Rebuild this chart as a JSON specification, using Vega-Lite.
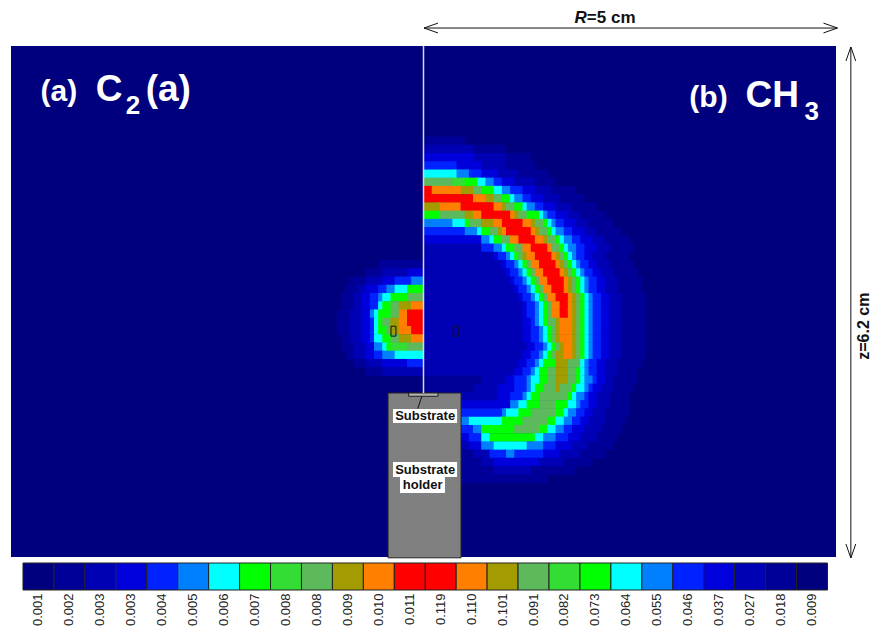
{"$schema":"https://vega.github.io/schema/vega-lite/v6.json","width":872,"height":630,"padding":0,"autosize":{"type":"none"},"background":"white","config":{"view":{"stroke":null},"text":{"font":"Liberation Sans"}},
"datasets":{"cells":[
{"z":5.05,"b":0.5,"v":2},
{"z":4.95,"b":1.0,"v":2},{"z":4.95,"b":0.6,"v":3},
{"z":4.85,"b":1.3,"v":2},{"z":4.85,"b":1.0,"v":3},{"z":4.85,"b":0.6,"v":4},
{"z":4.75,"b":1.35,"v":2},{"z":4.75,"b":1.0,"v":3},{"z":4.75,"b":0.7,"v":4},{"z":4.75,"b":0.4,"v":5},
{"z":4.65,"b":1.5,"v":2},{"z":4.65,"b":1.15,"v":3},{"z":4.65,"b":0.9,"v":4},{"z":4.65,"b":0.7,"v":5},{"z":4.65,"b":0.55,"v":6},{"z":4.65,"b":0.4,"v":7},
{"z":4.55,"b":1.6,"v":2},{"z":4.55,"b":1.35,"v":3},{"z":4.55,"b":1.1,"v":4},{"z":4.55,"b":0.95,"v":5},{"z":4.55,"b":0.85,"v":6},{"z":4.55,"b":0.75,"v":7},{"z":4.55,"b":0.65,"v":8},{"z":4.55,"b":0.5,"v":9},{"z":4.55,"b":0.35,"v":10},
{"z":4.45,"b":1.85,"v":2},{"z":4.45,"b":1.55,"v":3},{"z":4.45,"b":1.35,"v":4},{"z":4.45,"b":1.2,"v":5},{"z":4.45,"b":1.05,"v":6},{"z":4.45,"b":0.95,"v":7},{"z":4.45,"b":0.85,"v":8},{"z":4.45,"b":0.7,"v":10},{"z":4.45,"b":0.6,"v":11},{"z":4.45,"b":0.45,"v":12},{"z":4.45,"b":0.1,"v":13},
{"z":4.35,"b":1.95,"v":2},{"z":4.35,"b":1.65,"v":3},{"z":4.35,"b":1.45,"v":4},{"z":4.35,"b":1.3,"v":5},{"z":4.35,"b":1.2,"v":6},{"z":4.35,"b":1.1,"v":7},{"z":4.35,"b":1.05,"v":8},{"z":4.35,"b":0.95,"v":10},{"z":4.35,"b":0.85,"v":11},{"z":4.35,"b":0.75,"v":12},{"z":4.35,"b":0.6,"v":13},
{"z":4.25,"b":2.1,"v":2},{"z":4.25,"b":1.8,"v":3},{"z":4.25,"b":1.6,"v":4},{"z":4.25,"b":1.45,"v":5},{"z":4.25,"b":1.35,"v":6},{"z":4.25,"b":1.25,"v":7},{"z":4.25,"b":1.2,"v":8},{"z":4.25,"b":1.1,"v":10},{"z":4.25,"b":1.0,"v":11},{"z":4.25,"b":0.95,"v":12},{"z":4.25,"b":0.85,"v":13},{"z":4.25,"b":0.45,"v":12},{"z":4.25,"b":0.2,"v":11},
{"z":4.15,"b":2.2,"v":2},{"z":4.15,"b":1.9,"v":3},{"z":4.15,"b":1.75,"v":4},{"z":4.15,"b":1.6,"v":5},{"z":4.15,"b":1.5,"v":6},{"z":4.15,"b":1.45,"v":7},{"z":4.15,"b":1.4,"v":8},{"z":4.15,"b":1.25,"v":10},{"z":4.15,"b":1.15,"v":11},{"z":4.15,"b":1.1,"v":12},{"z":4.15,"b":1.05,"v":13},{"z":4.15,"b":0.7,"v":12},{"z":4.15,"b":0.6,"v":11},{"z":4.15,"b":0.5,"v":10},{"z":4.15,"b":0.2,"v":8},
{"z":4.05,"b":2.3,"v":2},{"z":4.05,"b":2.0,"v":3},{"z":4.05,"b":1.85,"v":4},{"z":4.05,"b":1.7,"v":5},{"z":4.05,"b":1.6,"v":6},{"z":4.05,"b":1.55,"v":7},{"z":4.05,"b":1.5,"v":8},{"z":4.05,"b":1.45,"v":10},{"z":4.05,"b":1.35,"v":11},{"z":4.05,"b":1.3,"v":12},{"z":4.05,"b":1.2,"v":13},{"z":4.05,"b":0.95,"v":12},{"z":4.05,"b":0.85,"v":11},{"z":4.05,"b":0.7,"v":10},{"z":4.05,"b":0.55,"v":8},{"z":4.05,"b":0.5,"v":7},{"z":4.05,"b":0.35,"v":6},
{"z":3.95,"b":2.4,"v":2},{"z":3.95,"b":2.1,"v":3},{"z":3.95,"b":1.95,"v":4},{"z":3.95,"b":1.8,"v":5},{"z":3.95,"b":1.7,"v":6},{"z":3.95,"b":1.6,"v":7},{"z":3.95,"b":1.55,"v":8},{"z":3.95,"b":1.5,"v":10},{"z":3.95,"b":1.4,"v":11},{"z":3.95,"b":1.35,"v":12},{"z":3.95,"b":1.3,"v":13},{"z":3.95,"b":1.0,"v":12},{"z":3.95,"b":0.95,"v":11},{"z":3.95,"b":0.9,"v":10},{"z":3.95,"b":0.8,"v":8},{"z":3.95,"b":0.7,"v":7},{"z":3.95,"b":0.65,"v":6},{"z":3.95,"b":0.5,"v":5},
{"z":3.85,"b":2.5,"v":2},{"z":3.85,"b":2.2,"v":3},{"z":3.85,"b":2.05,"v":4},{"z":3.85,"b":1.9,"v":5},{"z":3.85,"b":1.8,"v":6},{"z":3.85,"b":1.7,"v":7},{"z":3.85,"b":1.65,"v":8},{"z":3.85,"b":1.6,"v":10},{"z":3.85,"b":1.5,"v":11},{"z":3.85,"b":1.45,"v":12},{"z":3.85,"b":1.35,"v":13},{"z":3.85,"b":1.15,"v":12},{"z":3.85,"b":1.05,"v":10},{"z":3.85,"b":0.95,"v":8},{"z":3.85,"b":0.85,"v":7},{"z":3.85,"b":0.8,"v":6},{"z":3.85,"b":0.7,"v":4},
{"z":3.75,"b":2.55,"v":2},{"z":3.75,"b":2.25,"v":3},{"z":3.75,"b":2.1,"v":4},{"z":3.75,"b":1.95,"v":5},{"z":3.75,"b":1.85,"v":6},{"z":3.75,"b":1.75,"v":7},{"z":3.75,"b":1.7,"v":8},{"z":3.75,"b":1.65,"v":10},{"z":3.75,"b":1.55,"v":12},{"z":3.75,"b":1.5,"v":13},{"z":3.75,"b":1.3,"v":12},{"z":3.75,"b":1.2,"v":10},{"z":3.75,"b":1.1,"v":8},{"z":3.75,"b":1.0,"v":7},{"z":3.75,"b":0.95,"v":6},{"z":3.75,"b":0.85,"v":5},{"z":3.75,"b":0.7,"v":3},
{"z":3.65,"b":2.5,"v":2},{"z":3.65,"b":2.2,"v":3},{"z":3.65,"b":2.05,"v":4},{"z":3.65,"b":1.95,"v":5},{"z":3.65,"b":1.85,"v":6},{"z":3.65,"b":1.8,"v":7},{"z":3.65,"b":1.75,"v":8},{"z":3.65,"b":1.7,"v":10},{"z":3.65,"b":1.65,"v":11},{"z":3.65,"b":1.6,"v":12},{"z":3.65,"b":1.55,"v":13},{"z":3.65,"b":1.35,"v":12},{"z":3.65,"b":1.25,"v":11},{"z":3.65,"b":1.2,"v":10},{"z":3.65,"b":1.15,"v":8},{"z":3.65,"b":1.1,"v":7},{"z":3.65,"b":1.05,"v":6},{"z":3.65,"b":1.0,"v":5},{"z":3.65,"b":0.9,"v":4},{"z":3.65,"b":0.85,"v":3},
{"z":3.55,"b":2.55,"v":2},{"z":3.55,"b":2.25,"v":3},{"z":3.55,"b":2.1,"v":4},{"z":3.55,"b":2.0,"v":5},{"z":3.55,"b":1.9,"v":6},{"z":3.55,"b":1.85,"v":7},{"z":3.55,"b":1.8,"v":8},{"z":3.55,"b":1.75,"v":10},{"z":3.55,"b":1.7,"v":11},{"z":3.55,"b":1.65,"v":12},{"z":3.55,"b":1.6,"v":13},{"z":3.55,"b":1.4,"v":12},{"z":3.55,"b":1.3,"v":10},{"z":3.55,"b":1.25,"v":8},{"z":3.55,"b":1.2,"v":7},{"z":3.55,"b":1.15,"v":6},{"z":3.55,"b":1.1,"v":5},{"z":3.55,"b":1.0,"v":4},{"z":3.55,"b":0.95,"v":3},
{"z":3.45,"b":2.6,"v":2},{"z":3.45,"b":2.3,"v":3},{"z":3.45,"b":2.15,"v":4},{"z":3.45,"b":2.05,"v":5},{"z":3.45,"b":1.95,"v":6},{"z":3.45,"b":1.9,"v":7},{"z":3.45,"b":1.85,"v":8},{"z":3.45,"b":1.8,"v":10},{"z":3.45,"b":1.75,"v":11},{"z":3.45,"b":1.7,"v":12},{"z":3.45,"b":1.65,"v":13},{"z":3.45,"b":1.45,"v":12},{"z":3.45,"b":1.35,"v":10},{"z":3.45,"b":1.3,"v":8},{"z":3.45,"b":1.25,"v":7},{"z":3.45,"b":1.2,"v":6},{"z":3.45,"b":1.15,"v":5},{"z":3.45,"b":1.05,"v":4},{"z":3.45,"b":1.0,"v":3},
{"z":3.35,"b":2.65,"v":2},{"z":3.35,"b":2.35,"v":3},{"z":3.35,"b":2.2,"v":4},{"z":3.35,"b":2.1,"v":5},{"z":3.35,"b":2.0,"v":6},{"z":3.35,"b":1.95,"v":7},{"z":3.35,"b":1.9,"v":8},{"z":3.35,"b":1.85,"v":10},{"z":3.35,"b":1.8,"v":11},{"z":3.35,"b":1.75,"v":12},{"z":3.35,"b":1.7,"v":13},{"z":3.35,"b":1.5,"v":12},{"z":3.35,"b":1.4,"v":10},{"z":3.35,"b":1.35,"v":8},{"z":3.35,"b":1.3,"v":7},{"z":3.35,"b":1.25,"v":6},{"z":3.35,"b":1.2,"v":5},{"z":3.35,"b":1.1,"v":4},{"z":3.35,"b":1.05,"v":3},
{"z":3.25,"b":2.65,"v":2},{"z":3.25,"b":2.35,"v":3},{"z":3.25,"b":2.2,"v":4},{"z":3.25,"b":2.1,"v":5},{"z":3.25,"b":2.0,"v":6},{"z":3.25,"b":1.95,"v":7},{"z":3.25,"b":1.9,"v":8},{"z":3.25,"b":1.85,"v":10},{"z":3.25,"b":1.8,"v":11},{"z":3.25,"b":1.75,"v":12},{"z":3.25,"b":1.7,"v":13},{"z":3.25,"b":1.55,"v":12},{"z":3.25,"b":1.45,"v":10},{"z":3.25,"b":1.4,"v":8},{"z":3.25,"b":1.35,"v":7},{"z":3.25,"b":1.3,"v":6},{"z":3.25,"b":1.25,"v":5},{"z":3.25,"b":1.15,"v":4},{"z":3.25,"b":1.1,"v":3},
{"z":3.15,"b":2.7,"v":2},{"z":3.15,"b":2.4,"v":3},{"z":3.15,"b":2.25,"v":4},{"z":3.15,"b":2.15,"v":5},{"z":3.15,"b":2.05,"v":6},{"z":3.15,"b":2.0,"v":7},{"z":3.15,"b":1.95,"v":8},{"z":3.15,"b":1.9,"v":10},{"z":3.15,"b":1.85,"v":11},{"z":3.15,"b":1.8,"v":12},{"z":3.15,"b":1.75,"v":13},{"z":3.15,"b":1.6,"v":12},{"z":3.15,"b":1.5,"v":10},{"z":3.15,"b":1.45,"v":8},{"z":3.15,"b":1.4,"v":7},{"z":3.15,"b":1.35,"v":6},{"z":3.15,"b":1.3,"v":5},{"z":3.15,"b":1.2,"v":4},{"z":3.15,"b":1.15,"v":3},
{"z":3.05,"b":2.7,"v":2},{"z":3.05,"b":2.4,"v":3},{"z":3.05,"b":2.25,"v":4},{"z":3.05,"b":2.15,"v":5},{"z":3.05,"b":2.05,"v":6},{"z":3.05,"b":2.0,"v":7},{"z":3.05,"b":1.95,"v":8},{"z":3.05,"b":1.9,"v":10},{"z":3.05,"b":1.85,"v":11},{"z":3.05,"b":1.8,"v":12},{"z":3.05,"b":1.75,"v":13},{"z":3.05,"b":1.65,"v":12},{"z":3.05,"b":1.55,"v":10},{"z":3.05,"b":1.5,"v":8},{"z":3.05,"b":1.45,"v":7},{"z":3.05,"b":1.4,"v":6},{"z":3.05,"b":1.35,"v":5},{"z":3.05,"b":1.25,"v":4},{"z":3.05,"b":1.2,"v":3},
{"z":2.95,"b":2.7,"v":2},{"z":2.95,"b":2.4,"v":3},{"z":2.95,"b":2.25,"v":4},{"z":2.95,"b":2.15,"v":5},{"z":2.95,"b":2.05,"v":6},{"z":2.95,"b":2.0,"v":7},{"z":2.95,"b":1.95,"v":8},{"z":2.95,"b":1.9,"v":10},{"z":2.95,"b":1.85,"v":11},{"z":2.95,"b":1.8,"v":12},{"z":2.95,"b":1.75,"v":13},{"z":2.95,"b":1.65,"v":12},{"z":2.95,"b":1.55,"v":10},{"z":2.95,"b":1.5,"v":8},{"z":2.95,"b":1.45,"v":7},{"z":2.95,"b":1.4,"v":6},{"z":2.95,"b":1.35,"v":5},{"z":2.95,"b":1.25,"v":4},{"z":2.95,"b":1.2,"v":3},
{"z":2.85,"b":2.7,"v":2},{"z":2.85,"b":2.4,"v":3},{"z":2.85,"b":2.25,"v":4},{"z":2.85,"b":2.15,"v":5},{"z":2.85,"b":2.05,"v":6},{"z":2.85,"b":2.0,"v":7},{"z":2.85,"b":1.95,"v":8},{"z":2.85,"b":1.9,"v":10},{"z":2.85,"b":1.85,"v":11},{"z":2.85,"b":1.8,"v":12},{"z":2.85,"b":1.65,"v":11},{"z":2.85,"b":1.6,"v":10},{"z":2.85,"b":1.5,"v":8},{"z":2.85,"b":1.45,"v":7},{"z":2.85,"b":1.4,"v":6},{"z":2.85,"b":1.35,"v":5},{"z":2.85,"b":1.3,"v":4},{"z":2.85,"b":1.2,"v":3},
{"z":2.75,"b":2.7,"v":2},{"z":2.75,"b":2.4,"v":3},{"z":2.75,"b":2.25,"v":4},{"z":2.75,"b":2.15,"v":5},{"z":2.75,"b":2.05,"v":6},{"z":2.75,"b":2.0,"v":7},{"z":2.75,"b":1.95,"v":8},{"z":2.75,"b":1.9,"v":10},{"z":2.75,"b":1.85,"v":11},{"z":2.75,"b":1.8,"v":12},{"z":2.75,"b":1.65,"v":11},{"z":2.75,"b":1.6,"v":10},{"z":2.75,"b":1.55,"v":8},{"z":2.75,"b":1.5,"v":7},{"z":2.75,"b":1.45,"v":6},{"z":2.75,"b":1.4,"v":5},{"z":2.75,"b":1.3,"v":4},{"z":2.75,"b":1.2,"v":3},
{"z":2.65,"b":2.7,"v":2},{"z":2.65,"b":2.4,"v":3},{"z":2.65,"b":2.25,"v":4},{"z":2.65,"b":2.15,"v":5},{"z":2.65,"b":2.05,"v":6},{"z":2.65,"b":2.0,"v":7},{"z":2.65,"b":1.95,"v":8},{"z":2.65,"b":1.9,"v":10},{"z":2.65,"b":1.85,"v":11},{"z":2.65,"b":1.8,"v":12},{"z":2.65,"b":1.65,"v":11},{"z":2.65,"b":1.6,"v":10},{"z":2.65,"b":1.55,"v":8},{"z":2.65,"b":1.5,"v":7},{"z":2.65,"b":1.45,"v":6},{"z":2.65,"b":1.4,"v":5},{"z":2.65,"b":1.3,"v":4},{"z":2.65,"b":1.2,"v":3},
{"z":2.55,"b":2.7,"v":2},{"z":2.55,"b":2.4,"v":3},{"z":2.55,"b":2.25,"v":4},{"z":2.55,"b":2.15,"v":5},{"z":2.55,"b":2.05,"v":6},{"z":2.55,"b":2.0,"v":7},{"z":2.55,"b":1.95,"v":8},{"z":2.55,"b":1.9,"v":10},{"z":2.55,"b":1.85,"v":11},{"z":2.55,"b":1.8,"v":12},{"z":2.55,"b":1.7,"v":11},{"z":2.55,"b":1.65,"v":10},{"z":2.55,"b":1.6,"v":8},{"z":2.55,"b":1.55,"v":7},{"z":2.55,"b":1.5,"v":6},{"z":2.55,"b":1.45,"v":5},{"z":2.55,"b":1.35,"v":4},{"z":2.55,"b":1.25,"v":3},
{"z":2.45,"b":2.7,"v":2},{"z":2.45,"b":2.4,"v":3},{"z":2.45,"b":2.25,"v":4},{"z":2.45,"b":2.15,"v":5},{"z":2.45,"b":2.05,"v":6},{"z":2.45,"b":2.0,"v":7},{"z":2.45,"b":1.95,"v":8},{"z":2.45,"b":1.9,"v":10},{"z":2.45,"b":1.85,"v":11},{"z":2.45,"b":1.8,"v":12},{"z":2.45,"b":1.7,"v":11},{"z":2.45,"b":1.6,"v":10},{"z":2.45,"b":1.55,"v":8},{"z":2.45,"b":1.5,"v":7},{"z":2.45,"b":1.45,"v":6},{"z":2.45,"b":1.4,"v":5},{"z":2.45,"b":1.3,"v":4},{"z":2.45,"b":1.2,"v":3},
{"z":2.35,"b":2.65,"v":2},{"z":2.35,"b":2.35,"v":3},{"z":2.35,"b":2.2,"v":4},{"z":2.35,"b":2.1,"v":5},{"z":2.35,"b":2.0,"v":6},{"z":2.35,"b":1.95,"v":7},{"z":2.35,"b":1.9,"v":10},{"z":2.35,"b":1.75,"v":11},{"z":2.35,"b":1.6,"v":8},{"z":2.35,"b":1.45,"v":7},{"z":2.35,"b":1.4,"v":6},{"z":2.35,"b":1.35,"v":5},{"z":2.35,"b":1.25,"v":4},{"z":2.35,"b":1.15,"v":3},
{"z":2.25,"b":2.6,"v":2},{"z":2.25,"b":2.35,"v":3},{"z":2.25,"b":2.2,"v":4},{"z":2.25,"b":2.1,"v":5},{"z":2.25,"b":2.0,"v":6},{"z":2.25,"b":1.95,"v":7},{"z":2.25,"b":1.9,"v":8},{"z":2.25,"b":1.85,"v":10},{"z":2.25,"b":1.75,"v":11},{"z":2.25,"b":1.6,"v":10},{"z":2.25,"b":1.5,"v":8},{"z":2.25,"b":1.4,"v":7},{"z":2.25,"b":1.35,"v":6},{"z":2.25,"b":1.3,"v":5},{"z":2.25,"b":1.2,"v":4},{"z":2.25,"b":1.1,"v":3},
{"z":2.15,"b":2.6,"v":2},{"z":2.15,"b":2.3,"v":3},{"z":2.15,"b":2.2,"v":4},{"z":2.15,"b":2.1,"v":5},{"z":2.15,"b":2.05,"v":6},{"z":2.15,"b":1.95,"v":7},{"z":2.15,"b":1.9,"v":8},{"z":2.15,"b":1.85,"v":10},{"z":2.15,"b":1.75,"v":11},{"z":2.15,"b":1.6,"v":10},{"z":2.15,"b":1.5,"v":8},{"z":2.15,"b":1.4,"v":7},{"z":2.15,"b":1.3,"v":6},{"z":2.15,"b":1.25,"v":5},{"z":2.15,"b":1.1,"v":4},{"z":2.15,"b":1.0,"v":3},{"z":2.15,"b":0.7,"v":2},
{"z":2.05,"b":2.55,"v":2},{"z":2.05,"b":2.3,"v":3},{"z":2.05,"b":2.15,"v":4},{"z":2.05,"b":2.05,"v":5},{"z":2.05,"b":2.0,"v":6},{"z":2.05,"b":1.95,"v":7},{"z":2.05,"b":1.85,"v":8},{"z":2.05,"b":1.8,"v":10},{"z":2.05,"b":1.65,"v":11},{"z":2.05,"b":1.6,"v":10},{"z":2.05,"b":1.45,"v":8},{"z":2.05,"b":1.35,"v":7},{"z":2.05,"b":1.3,"v":6},{"z":2.05,"b":1.25,"v":5},{"z":2.05,"b":1.1,"v":4},{"z":2.05,"b":0.9,"v":3},{"z":2.05,"b":0.6,"v":2},
{"z":1.95,"b":2.5,"v":2},{"z":1.95,"b":2.25,"v":3},{"z":1.95,"b":2.1,"v":4},{"z":1.95,"b":2.0,"v":5},{"z":1.95,"b":1.95,"v":6},{"z":1.95,"b":1.85,"v":7},{"z":1.95,"b":1.8,"v":8},{"z":1.95,"b":1.75,"v":10},{"z":1.95,"b":1.4,"v":8},{"z":1.95,"b":1.3,"v":7},{"z":1.95,"b":1.25,"v":6},{"z":1.95,"b":1.2,"v":5},{"z":1.95,"b":1.05,"v":4},{"z":1.95,"b":0.9,"v":3},
{"z":1.85,"b":2.5,"v":2},{"z":1.85,"b":2.25,"v":3},{"z":1.85,"b":2.1,"v":4},{"z":1.85,"b":2.0,"v":5},{"z":1.85,"b":1.9,"v":6},{"z":1.85,"b":1.85,"v":7},{"z":1.85,"b":1.75,"v":8},{"z":1.85,"b":1.6,"v":10},{"z":1.85,"b":1.4,"v":8},{"z":1.85,"b":1.25,"v":7},{"z":1.85,"b":1.15,"v":6},{"z":1.85,"b":1.05,"v":4},
{"z":1.75,"b":2.5,"v":2},{"z":1.75,"b":2.2,"v":3},{"z":1.75,"b":2.05,"v":4},{"z":1.75,"b":1.95,"v":5},{"z":1.75,"b":1.85,"v":6},{"z":1.75,"b":1.75,"v":7},{"z":1.75,"b":1.7,"v":8},{"z":1.75,"b":1.6,"v":10},{"z":1.75,"b":1.3,"v":8},{"z":1.75,"b":1.15,"v":7},{"z":1.75,"b":1.0,"v":6},{"z":1.75,"b":0.95,"v":5},
{"z":1.65,"b":2.45,"v":2},{"z":1.65,"b":2.2,"v":3},{"z":1.65,"b":2.0,"v":4},{"z":1.65,"b":1.9,"v":5},{"z":1.65,"b":1.8,"v":6},{"z":1.65,"b":1.7,"v":7},{"z":1.65,"b":1.6,"v":8},{"z":1.65,"b":1.5,"v":10},{"z":1.65,"b":1.2,"v":8},{"z":1.65,"b":0.95,"v":7},{"z":1.65,"b":0.55,"v":6},
{"z":1.55,"b":2.4,"v":2},{"z":1.55,"b":2.15,"v":3},{"z":1.55,"b":1.95,"v":4},{"z":1.55,"b":1.8,"v":5},{"z":1.55,"b":1.7,"v":6},{"z":1.55,"b":1.6,"v":7},{"z":1.55,"b":1.5,"v":8},{"z":1.55,"b":1.4,"v":10},{"z":1.55,"b":1.1,"v":8},{"z":1.55,"b":0.7,"v":6},{"z":1.55,"b":0.6,"v":5},
{"z":1.45,"b":2.35,"v":2},{"z":1.45,"b":2.1,"v":3},{"z":1.45,"b":1.9,"v":4},{"z":1.45,"b":1.75,"v":5},{"z":1.45,"b":1.6,"v":6},{"z":1.45,"b":1.45,"v":7},{"z":1.45,"b":1.35,"v":8},{"z":1.45,"b":0.8,"v":7},{"z":1.45,"b":0.7,"v":5},{"z":1.45,"b":0.55,"v":4},
{"z":1.35,"b":2.3,"v":2},{"z":1.35,"b":2.0,"v":3},{"z":1.35,"b":1.8,"v":4},{"z":1.35,"b":1.6,"v":5},{"z":1.35,"b":1.45,"v":6},{"z":1.35,"b":1.25,"v":7},{"z":1.35,"b":0.85,"v":6},{"z":1.35,"b":0.7,"v":4},{"z":1.35,"b":0.55,"v":3},
{"z":1.25,"b":2.2,"v":2},{"z":1.25,"b":1.9,"v":3},{"z":1.25,"b":1.65,"v":4},{"z":1.25,"b":1.45,"v":5},{"z":1.25,"b":1.1,"v":6},{"z":1.25,"b":1.0,"v":5},{"z":1.25,"b":0.8,"v":3},{"z":1.25,"b":0.6,"v":2},
{"z":1.15,"b":2.05,"v":2},{"z":1.15,"b":1.7,"v":3},{"z":1.15,"b":1.4,"v":4},{"z":1.15,"b":0.85,"v":3},{"z":1.15,"b":0.7,"v":2},
{"z":1.05,"b":1.85,"v":2},{"z":1.05,"b":1.3,"v":3},{"z":1.05,"b":0.85,"v":2},
{"z":0.95,"b":1.5,"v":2},
{"z":3.55,"b":-0.55,"v":2},
{"z":3.45,"b":-0.7,"v":2},{"z":3.45,"b":-0.5,"v":3},{"z":3.45,"b":-0.2,"v":4},
{"z":3.35,"b":-0.9,"v":2},{"z":3.35,"b":-0.7,"v":3},{"z":3.35,"b":-0.5,"v":4},{"z":3.35,"b":-0.35,"v":5},{"z":3.35,"b":-0.15,"v":6},
{"z":3.25,"b":-0.95,"v":2},{"z":3.25,"b":-0.8,"v":3},{"z":3.25,"b":-0.7,"v":4},{"z":3.25,"b":-0.55,"v":5},{"z":3.25,"b":-0.45,"v":6},{"z":3.25,"b":-0.35,"v":7},{"z":3.25,"b":-0.2,"v":8},
{"z":3.15,"b":-1.0,"v":2},{"z":3.15,"b":-0.85,"v":3},{"z":3.15,"b":-0.75,"v":4},{"z":3.15,"b":-0.65,"v":5},{"z":3.15,"b":-0.55,"v":6},{"z":3.15,"b":-0.5,"v":7},{"z":3.15,"b":-0.4,"v":8},{"z":3.15,"b":-0.2,"v":10},
{"z":3.05,"b":-1.0,"v":2},{"z":3.05,"b":-0.85,"v":3},{"z":3.05,"b":-0.75,"v":4},{"z":3.05,"b":-0.65,"v":5},{"z":3.05,"b":-0.55,"v":7},{"z":3.05,"b":-0.5,"v":8},{"z":3.05,"b":-0.4,"v":10},{"z":3.05,"b":-0.3,"v":11},{"z":3.05,"b":-0.15,"v":12},
{"z":2.95,"b":-1.05,"v":2},{"z":2.95,"b":-0.9,"v":3},{"z":2.95,"b":-0.75,"v":4},{"z":2.95,"b":-0.65,"v":6},{"z":2.95,"b":-0.6,"v":7},{"z":2.95,"b":-0.55,"v":8},{"z":2.95,"b":-0.4,"v":10},{"z":2.95,"b":-0.3,"v":12},{"z":2.95,"b":-0.2,"v":13},
{"z":2.85,"b":-1.05,"v":2},{"z":2.85,"b":-0.9,"v":3},{"z":2.85,"b":-0.75,"v":4},{"z":2.85,"b":-0.65,"v":5},{"z":2.85,"b":-0.6,"v":7},{"z":2.85,"b":-0.55,"v":8},{"z":2.85,"b":-0.5,"v":10},{"z":2.85,"b":-0.4,"v":11},{"z":2.85,"b":-0.3,"v":12},{"z":2.85,"b":-0.2,"v":13},
{"z":2.75,"b":-1.05,"v":2},{"z":2.75,"b":-0.9,"v":3},{"z":2.75,"b":-0.75,"v":4},{"z":2.75,"b":-0.65,"v":5},{"z":2.75,"b":-0.6,"v":7},{"z":2.75,"b":-0.55,"v":8},{"z":2.75,"b":-0.45,"v":10},{"z":2.75,"b":-0.4,"v":11},{"z":2.75,"b":-0.3,"v":12},{"z":2.75,"b":-0.15,"v":13},
{"z":2.65,"b":-1.0,"v":2},{"z":2.65,"b":-0.9,"v":3},{"z":2.65,"b":-0.75,"v":4},{"z":2.65,"b":-0.65,"v":5},{"z":2.65,"b":-0.6,"v":7},{"z":2.65,"b":-0.5,"v":8},{"z":2.65,"b":-0.4,"v":10},{"z":2.65,"b":-0.3,"v":11},{"z":2.65,"b":-0.15,"v":12},
{"z":2.55,"b":-1.0,"v":2},{"z":2.55,"b":-0.85,"v":3},{"z":2.55,"b":-0.7,"v":4},{"z":2.55,"b":-0.6,"v":6},{"z":2.55,"b":-0.5,"v":7},{"z":2.55,"b":-0.45,"v":8},{"z":2.55,"b":-0.4,"v":9},{"z":2.55,"b":-0.2,"v":10},
{"z":2.45,"b":-0.95,"v":2},{"z":2.45,"b":-0.85,"v":3},{"z":2.45,"b":-0.7,"v":4},{"z":2.45,"b":-0.6,"v":5},{"z":2.45,"b":-0.5,"v":6},{"z":2.45,"b":-0.35,"v":7},
{"z":2.35,"b":-0.85,"v":2},{"z":2.35,"b":-0.7,"v":3},{"z":2.35,"b":-0.5,"v":4},{"z":2.35,"b":-0.2,"v":5},
{"z":2.25,"b":-0.7,"v":2},{"z":2.25,"b":-0.5,"v":3}
],
"legendbar":[
{"i":0,"v":1,"bar":"c"},{"i":1,"v":2,"bar":"c"},{"i":2,"v":3,"bar":"c"},{"i":3,"v":4,"bar":"c"},{"i":4,"v":5,"bar":"c"},{"i":5,"v":6,"bar":"c"},{"i":6,"v":7,"bar":"c"},{"i":7,"v":8,"bar":"c"},{"i":8,"v":9,"bar":"c"},{"i":9,"v":10,"bar":"c"},{"i":10,"v":11,"bar":"c"},{"i":11,"v":12,"bar":"c"},{"i":12,"v":13,"bar":"c"},{"i":13,"v":13,"bar":"c"},{"i":14,"v":12,"bar":"c"},{"i":15,"v":11,"bar":"c"},{"i":16,"v":10,"bar":"c"},{"i":17,"v":9,"bar":"c"},{"i":18,"v":8,"bar":"c"},{"i":19,"v":7,"bar":"c"},{"i":20,"v":6,"bar":"c"},{"i":21,"v":5,"bar":"c"},{"i":22,"v":4,"bar":"c"},{"i":23,"v":3,"bar":"c"},{"i":24,"v":2,"bar":"c"},{"i":25,"v":1,"bar":"c"}
]},
"layer":[
{"layer":[
{"data":{"values":[{"b":-5,"b2":5,"z":0,"z2":6.2,"v":1}]},"mark":{"type":"rect"},"encoding":{"x":{"field":"b","type":"quantitative","axis":null,"scale":{"domain":[-5,5],"range":[11,836],"nice":false,"zero":false}},"x2":{"field":"b2"},"y":{"field":"z","type":"quantitative","axis":null,"scale":{"domain":[0,6.2],"range":[557,46],"nice":false,"zero":false}},"y2":{"field":"z2"},"color":{"field":"v","type":"ordinal","legend":null,"scale":{"domain":[1,2,3,4,5,6,7,8,9,10,11,12,13],"range":["#00007f","#000098","#0000b4","#0000dc","#0022ff","#0080ff","#00ffff","#00ff00","#33dd33","#5cba5c","#a39c00","#ff8000","#ff0000"]}}}},
{"data":{"name":"cells"},"transform":[{"filter":"datum.b>0"},{"window":[{"op":"lead","field":"b","as":"a"}],"groupby":["z"]},{"calculate":"datum.a===null?0:datum.a-0.02","as":"c"}],"mark":{"type":"rect","height":8.7},"encoding":{"x":{"field":"b","type":"quantitative","axis":null},"x2":{"field":"c"},"y":{"field":"z","type":"quantitative","axis":null},"color":{"field":"v","type":"ordinal","legend":null}}},
{"data":{"name":"cells"},"transform":[{"filter":"datum.b<0"},{"window":[{"op":"lead","field":"b","as":"a"}],"groupby":["z"]},{"calculate":"datum.a===null?0:datum.a+0.02","as":"c"}],"mark":{"type":"rect","height":8.7},"encoding":{"x":{"field":"b","type":"quantitative","axis":null},"x2":{"field":"c"},"y":{"field":"z","type":"quantitative","axis":null},"color":{"field":"v","type":"ordinal","legend":null}}},
{"data":{"values":[{"b":-0.43,"b2":0.455,"z":-0.01,"z2":1.99}]},"mark":{"type":"rect","fill":"#808080","stroke":"#222222","strokeWidth":1},"encoding":{"x":{"field":"b","type":"quantitative","axis":null},"x2":{"field":"b2"},"y":{"field":"z","type":"quantitative","axis":null},"y2":{"field":"z2"}}},
{"data":{"values":[{"b":-0.18,"b2":0.176,"z":1.95,"z2":1.99}]},"mark":{"type":"rect","fill":"#b0b0b0","stroke":"#222222","strokeWidth":1},"encoding":{"x":{"field":"b","type":"quantitative","axis":null},"x2":{"field":"b2"},"y":{"field":"z","type":"quantitative","axis":null},"y2":{"field":"z2"}}},
{"data":{"values":[{"b":-0.37,"b2":0.407,"z":1.626,"z2":1.796},{"b":-0.37,"b2":0.407,"z":0.971,"z2":1.153},{"b":-0.285,"b2":0.26,"z":0.777,"z2":0.971}]},"mark":{"type":"rect","fill":"white"},"encoding":{"x":{"field":"b","type":"quantitative","axis":null},"x2":{"field":"b2"},"y":{"field":"z","type":"quantitative","axis":null},"y2":{"field":"z2"}}},
{"data":{"values":[{"b":-0.394,"b2":-0.334,"z":2.68,"z2":2.8},{"b":0.36,"b2":0.42,"z":2.68,"z2":2.8}]},"mark":{"type":"rect","fillOpacity":0,"stroke":"#111111","strokeWidth":1},"encoding":{"x":{"field":"b","type":"quantitative","axis":null},"x2":{"field":"b2"},"y":{"field":"z","type":"quantitative","axis":null},"y2":{"field":"z2"}}},
{"data":{"values":[{"b":0,"b2":0,"z":1.99,"z2":6.2}]},"mark":{"type":"rule","color":"#d8d8e4","strokeWidth":1.5},"encoding":{"x":{"field":"b","type":"quantitative","axis":null},"x2":{"field":"b2"},"y":{"field":"z","type":"quantitative","axis":null},"y2":{"field":"z2"}}},
{"data":{"values":[{"b":0.006,"b2":5.018,"z":6.418,"z2":6.418},{"b":5.18,"b2":5.18,"z":-0.012,"z2":6.188},{"b":-0.02,"b2":-0.07,"z":1.95,"z2":1.8}]},"mark":{"type":"rule","color":"#111111","strokeWidth":1},"encoding":{"x":{"field":"b","type":"quantitative","axis":null},"x2":{"field":"b2"},"y":{"field":"z","type":"quantitative","axis":null},"y2":{"field":"z2"}}},
{"data":{"values":[{"b":0.006,"z":6.418,"a":270},{"b":5.018,"z":6.418,"a":90},{"b":5.18,"z":6.188,"a":0},{"b":5.18,"z":-0.012,"a":180}]},"mark":{"type":"point","shape":"M-0.7,2L0,0L0.7,2","size":196,"filled":false,"stroke":"#111111","strokeWidth":1,"opacity":1},"encoding":{"x":{"field":"b","type":"quantitative","axis":null},"y":{"field":"z","type":"quantitative","axis":null},"angle":{"field":"a","type":"quantitative","scale":null}}},
{"data":{"values":[{"t":"(a)","b":-4.642,"z":5.533},{"t":"(b)","b":3.222,"z":5.46}]},"mark":{"type":"text","align":"left","baseline":"alphabetic","color":"white","fontSize":30,"fontWeight":"bold"},"encoding":{"x":{"field":"b","type":"quantitative","axis":null},"y":{"field":"z","type":"quantitative","axis":null},"text":{"field":"t"}}},
{"data":{"values":[{"t":"C","b":-3.974,"z":5.533},{"t":"(a)","b":-3.368,"z":5.533},{"t":"CH","b":3.902,"z":5.46}]},"mark":{"type":"text","align":"left","baseline":"alphabetic","color":"white","fontSize":37,"fontWeight":"bold"},"encoding":{"x":{"field":"b","type":"quantitative","axis":null},"y":{"field":"z","type":"quantitative","axis":null},"text":{"field":"t"}}},
{"data":{"values":[{"t":"2","b":-3.61,"z":5.375},{"t":"3","b":4.618,"z":5.302}]},"mark":{"type":"text","align":"left","baseline":"alphabetic","color":"white","fontSize":26,"fontWeight":"bold"},"encoding":{"x":{"field":"b","type":"quantitative","axis":null},"y":{"field":"z","type":"quantitative","axis":null},"text":{"field":"t"}}},
{"data":{"values":[{"t":"Substrate","b":0.02,"z":1.71},{"t":"Substrate","b":0.02,"z":1.06},{"t":"holder","b":-0.01,"z":0.875}]},"mark":{"type":"text","align":"center","baseline":"middle","color":"#111111","fontSize":13,"fontWeight":"bold"},"encoding":{"x":{"field":"b","type":"quantitative","axis":null},"y":{"field":"z","type":"quantitative","axis":null},"text":{"field":"t"}}},
{"data":{"values":[{"t":"R","b":1.83,"z":6.479}]},"mark":{"type":"text","align":"left","baseline":"alphabetic","color":"#111111","fontSize":17,"fontWeight":"bold","fontStyle":"italic"},"encoding":{"x":{"field":"b","type":"quantitative","axis":null},"y":{"field":"z","type":"quantitative","axis":null},"text":{"field":"t"}}},
{"data":{"values":[{"t":"=5 cm","b":1.98,"z":6.479}]},"mark":{"type":"text","align":"left","baseline":"alphabetic","color":"#111111","fontSize":17,"fontWeight":"bold"},"encoding":{"x":{"field":"b","type":"quantitative","axis":null},"y":{"field":"z","type":"quantitative","axis":null},"text":{"field":"t"}}},
{"data":{"values":[{"t":"z=6.2 cm","b":5.4,"z":2.8}]},"mark":{"type":"text","align":"center","baseline":"alphabetic","angle":270,"color":"#111111","fontSize":16,"fontWeight":"bold"},"encoding":{"x":{"field":"b","type":"quantitative","axis":null},"y":{"field":"z","type":"quantitative","axis":null},"text":{"field":"t"}}}
]},
{"data":{"name":"legendbar"},"mark":{"type":"rect","stroke":"#222222","strokeWidth":1},"encoding":{"x":{"field":"i","type":"ordinal","sort":null,"scale":{"type":"band","range":[23,827.5],"paddingInner":0,"paddingOuter":0},"axis":{"orient":"bottom","offset":-40,"title":null,"domain":false,"ticks":false,"labelAngle":270,"labelAlign":"right","labelBaseline":"middle","labelPadding":3,"labelFontSize":13,"labelColor":"#222222","labelFont":"Liberation Sans","labelOverlap":false,"labelExpr":"['0.001','0.002','0.003','0.003','0.004','0.005','0.006','0.007','0.008','0.008','0.009','0.010','0.011','0.119','0.110','0.101','0.091','0.082','0.073','0.064','0.055','0.046','0.037','0.027','0.018','0.009'][datum.value]"}},"y":{"field":"bar","type":"nominal","axis":null,"scale":{"type":"band","range":[563,590],"paddingInner":0,"paddingOuter":0}},"color":{"field":"v","type":"ordinal","legend":null}}}
],"resolve":{"scale":{"x":"independent","y":"independent"}}}
